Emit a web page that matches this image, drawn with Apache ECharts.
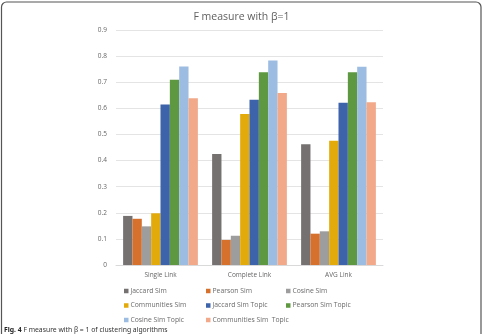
<!DOCTYPE html>
<html>
<head>
<meta charset="utf-8">
<script src="https://cdn.jsdelivr.net/npm/echarts@6/dist/echarts.min.js"></script>
<style>
  html, body { margin: 0; padding: 0; background: #fff; }
  #chart { width: 483px; height: 334px; }
</style>
</head>
<body>
<div id="chart"></div>
<script>
// categories and series
const categories = ['Single Link', 'Complete Link', 'AVG Link'];
const seriesNames = [
  'Jaccard Sim', 'Pearson Sim', 'Cosine Sim',
  'Communities Sim', 'Jaccard Sim Topic', 'Pearson Sim Topic',
  'Cosine Sim Topic', 'Communities Sim  Topic'
];
const jaccardSim = [0.188, 0.425, 0.462];
const pearsonSim = [0.177, 0.096, 0.120];
const cosineSim = [0.148, 0.112, 0.129];
const communitiesSim = [0.198, 0.578, 0.476];
const jaccardTopic = [0.615, 0.633, 0.621];
const pearsonTopic = [0.709, 0.738, 0.738];
const cosineTopic = [0.760, 0.783, 0.759];
const communitiesTopic = [0.639, 0.659, 0.623];
const yTicks = [0, 0.1, 0.2, 0.3, 0.4, 0.5, 0.6, 0.7, 0.8, 0.9];

const seriesValues = [
  jaccardSim, pearsonSim, cosineSim, communitiesSim,
  jaccardTopic, pearsonTopic, cosineTopic, communitiesTopic
];

const colors = [
  '#747170', '#d6702d', '#9d9d9d', '#e3aa0b',
  '#3d63aa', '#5e9941', '#9dbce2', '#f1a98a'
];

const chart = echarts.init(document.getElementById('chart'));

// legend laid out as a 3-column grid, one legend per item
const colX = [124, 206, 286];
const rowY = [287.5, 302, 316.5];
const legends = seriesNames.map((name, i) => ({
  data: [name],
  left: colX[i % 3],
  top: rowY[Math.floor(i / 3)],
  itemWidth: 4.5,
  itemHeight: 4.5,
  itemGap: 0,
  icon: 'rect',
  padding: 0,
  textStyle: { color: '#6a6a6a', fontSize: 6.8, padding: [0, 0, 0, -3], fontFamily: 'Open Sans' }
}));

const option = {
  backgroundColor: '#fff',
  animation: false,
  color: colors,
  textStyle: { fontFamily: 'Open Sans' },
  title: [
    {
      text: 'F measure with β=1',
      left: 'center',
      top: 7,
      textStyle: { color: '#606060', fontSize: 10.5, fontWeight: 'normal', fontFamily: 'Open Sans' }
    },
    {
      text: '{b|Fig. 4} F measure with β = 1 of clustering algorithms',
      left: 4,
      top: 327,
      padding: 0,
      textStyle: {
        color: '#333', fontSize: 6.8, fontWeight: 'normal', fontFamily: 'Noto Sans',
        rich: { b: { fontWeight: 'bold', fontSize: 6.8, color: '#222', fontFamily: 'Noto Sans' } }
      }
    }
  ],
  legend: legends,
  grid: { left: 116, right: 100, top: 30, bottom: 69 },
  xAxis: {
    type: 'category',
    data: categories,
    axisLine: { lineStyle: { color: '#d9d9d9' } },
    axisTick: { show: false },
    axisLabel: { color: '#666', fontSize: 6.5, margin: 7 }
  },
  yAxis: {
    type: 'value',
    min: yTicks[0],
    max: yTicks[yTicks.length - 1],
    interval: 0.1,
    axisLine: { show: false },
    axisTick: { show: false },
    axisLabel: { color: '#666', fontSize: 6.5, margin: 9, formatter: v => String(+v.toFixed(1)) },
    splitLine: { lineStyle: { color: '#e4e4e4' } }
  },
  series: seriesNames.map((name, i) => ({
    name,
    type: 'bar',
    data: seriesValues[i],
    barGap: '0%',
    barCategoryGap: '16%'
  })),
  graphic: [
    {
      type: 'rect',
      shape: { x: 1.5, y: 2, width: 479.5, height: 345, r: 5 },
      style: { fill: 'none', stroke: '#555', lineWidth: 1.2 },
      silent: true
    }
  ]
};

chart.setOption(option);
</script>
</body>
</html>
